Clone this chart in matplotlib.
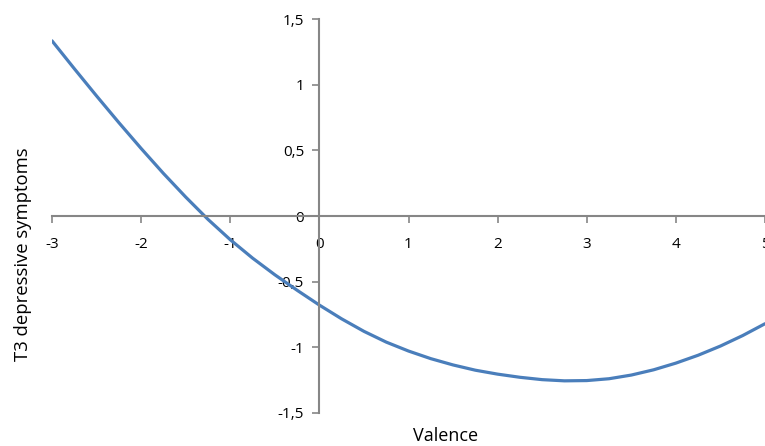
import matplotlib.pyplot as plt
from matplotlib.ticker import FuncFormatter

valence = [-3, -2.75, -2.5, -2.25, -2, -1.75, -1.5, -1.25, -1, -0.75, -0.5, -0.25,
           0, 0.25, 0.5, 0.75, 1, 1.25, 1.5, 1.75, 2, 2.25, 2.5, 2.75,
           3, 3.25, 3.5, 3.75, 4, 4.25, 4.5, 4.75, 5]
symptoms = [1.335, 1.123, 0.915, 0.712, 0.515, 0.325, 0.145, -0.025, -0.18, -0.32, -0.447, -0.565,
            -0.678, -0.783, -0.878, -0.96, -1.028, -1.086, -1.134, -1.174, -1.204, -1.228, -1.246, -1.255,
            -1.253, -1.239, -1.211, -1.171, -1.12, -1.06, -0.99, -0.91, -0.82]
x_ticks = [-3, -2, -1, 0, 1, 2, 3, 4, 5]
y_ticks = [-1.5, -1, -0.5, 0, 0.5, 1, 1.5]

plt.rcParams["font.family"] = ["Open Sans", "DejaVu Sans"]
axis_grey = "#868686"

fig = plt.figure(figsize=(7.65, 4.46), dpi=100)
ax = fig.add_axes([0.068, 0.074, 0.932, 0.883])

ax.plot(valence, symptoms, color="#4a7ebb", lw=2.3, solid_capstyle="round",
        solid_joinstyle="round")

ax.set_xlim(-3, 5)
ax.set_ylim(-1.5, 1.5)
ax.set_xticks(x_ticks)
ax.set_yticks(y_ticks)

# axes cross at the origin, Excel style
ax.spines["left"].set_position(("data", 0))
ax.spines["bottom"].set_position(("data", 0))
ax.spines["right"].set_visible(False)
ax.spines["top"].set_visible(False)
for side in ("left", "bottom"):
    ax.spines[side].set_color(axis_grey)
    ax.spines[side].set_linewidth(1.5)

comma = FuncFormatter(lambda v, pos: f"{v:g}".replace(".", ","))
ax.xaxis.set_major_formatter(comma)
ax.yaxis.set_major_formatter(comma)
ax.tick_params(axis="both", direction="out", length=5, width=1.2,
               color=axis_grey, labelsize=11, labelcolor="black")
ax.tick_params(axis="x", pad=10)
ax.tick_params(axis="y", pad=6)

fig.text(0.582, 0.022, "Valence", fontsize=13, ha="center", va="center")
fig.text(0.03, 0.67, "T3 depressive symptoms", fontsize=13.3, rotation=90,
         ha="center", va="top")

fig.savefig("out.png", dpi=100, facecolor="white")
